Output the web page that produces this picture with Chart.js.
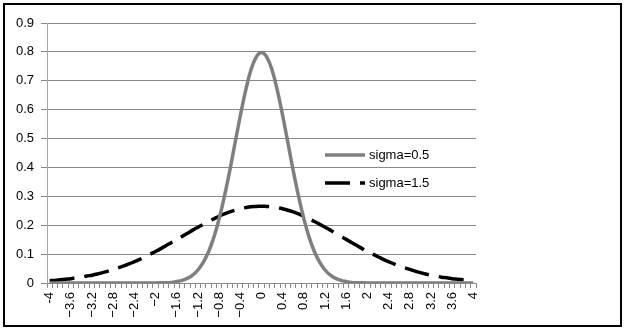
<!DOCTYPE html>
<html>
<head>
<meta charset="utf-8">
<script src="https://cdn.jsdelivr.net/npm/chart.js@4"></script>
<style>
  html, body { margin: 0; padding: 0; background: #fff; }
  #wrap { width: 625px; height: 333px; }
</style>
</head>
<body>
<div id="wrap"><canvas id="chart" width="625" height="333"></canvas></div>
<script>
// x categories, -4 .. 4 by 0.1
const xValues = [
  -4.0, -3.9, -3.8, -3.7, -3.6, -3.5, -3.4, -3.3, -3.2, -3.1,
  -3.0, -2.9, -2.8, -2.7, -2.6, -2.5, -2.4, -2.3, -2.2, -2.1,
  -2.0, -1.9, -1.8, -1.7, -1.6, -1.5, -1.4, -1.3, -1.2, -1.1,
  -1.0, -0.9, -0.8, -0.7, -0.6, -0.5, -0.4, -0.3, -0.2, -0.1,
  0.0,
  0.1, 0.2, 0.3, 0.4, 0.5, 0.6, 0.7, 0.8, 0.9, 1.0,
  1.1, 1.2, 1.3, 1.4, 1.5, 1.6, 1.7, 1.8, 1.9, 2.0,
  2.1, 2.2, 2.3, 2.4, 2.5, 2.6, 2.7, 2.8, 2.9, 3.0,
  3.1, 3.2, 3.3, 3.4, 3.5, 3.6, 3.7, 3.8, 3.9, 4.0
]

// tick labels shown every 0.4
const tickLabels = [
  '-4', '−3.6', '−3.2', '−2.8', '−2.4', '−2', '−1.6', '−1.2', '−0.8', '−0.4',
  '0', '0.4', '0.8', '1.2', '1.6', '2', '2.4', '2.8', '3.2', '3.6', '4'
]

const seriesNames = ['sigma=0.5', 'sigma=1.5']

const sigmaHalf = [
  0, 0, 0, 0, 0, 0, 0, 0, 0, 0,
  0, 0, 0, 0, 0, 0, 0, 0, 0, 0,
  0, 0.001, 0.001, 0.002, 0.005, 0.009, 0.016, 0.027, 0.045, 0.071,
  0.108, 0.158, 0.222, 0.300, 0.388, 0.484, 0.579, 0.666, 0.737, 0.782,
  0.798,
  0.782, 0.737, 0.666, 0.579, 0.484, 0.388, 0.300, 0.222, 0.158, 0.108,
  0.071, 0.045, 0.027, 0.016, 0.009, 0.005, 0.002, 0.001, 0.001, 0,
  0, 0, 0, 0, 0, 0, 0, 0, 0, 0,
  0, 0, 0, 0, 0, 0, 0, 0, 0, 0
]

const sigmaOneHalf = [
  0.008, 0.009, 0.011, 0.013, 0.015, 0.018, 0.020, 0.024, 0.027, 0.031,
  0.036, 0.041, 0.047, 0.053, 0.059, 0.066, 0.074, 0.082, 0.091, 0.100,
  0.109, 0.119, 0.130, 0.140, 0.151, 0.161, 0.172, 0.183, 0.193, 0.203,
  0.213, 0.222, 0.231, 0.239, 0.246, 0.252, 0.257, 0.261, 0.264, 0.265,
  0.266,
  0.265, 0.264, 0.261, 0.257, 0.252, 0.246, 0.239, 0.231, 0.222, 0.213,
  0.203, 0.193, 0.183, 0.172, 0.161, 0.151, 0.140, 0.130, 0.119, 0.109,
  0.100, 0.091, 0.082, 0.074, 0.066, 0.059, 0.053, 0.047, 0.041, 0.036,
  0.031, 0.027, 0.024, 0.020, 0.018, 0.015, 0.013, 0.011, 0.009, 0.008
]

const FONT = '"Liberation Sans", Arial, sans-serif'

// outer frame
const framePlugin = {
  id: 'frame',
  beforeDraw(chart) {
    const ctx = chart.ctx
    ctx.save()
    ctx.fillStyle = '#fff'
    ctx.fillRect(0, 0, chart.width, chart.height)
    ctx.strokeStyle = '#000'
    ctx.lineWidth = 2
    ctx.strokeRect(4, 4, 617, 322)
    ctx.restore()
  }
}

// legend inside the plot, like the original
const insideLegend = {
  id: 'insideLegend',
  afterDraw(chart) {
    const ctx = chart.ctx
    const rows = [155, 183]
    ctx.save()
    chart.data.datasets.forEach((ds, i) => {
      const y = rows[i]
      ctx.beginPath()
      ctx.strokeStyle = ds.borderColor
      ctx.lineWidth = ds.borderWidth
      ctx.lineCap = 'butt'
      ctx.setLineDash(ds.borderDash || [])
      ctx.moveTo(325, y)
      ctx.lineTo(365, y)
      ctx.stroke()
      ctx.setLineDash([])
      ctx.fillStyle = '#000'
      ctx.font = '13px ' + FONT
      ctx.textBaseline = 'middle'
      ctx.fillText(ds.label, 369, y)
    })
    ctx.restore()
  }
}

new Chart(document.getElementById('chart'), {
  type: 'line',
  data: {
    labels: xValues,
    datasets: [
      {
        label: seriesNames[0],
        data: sigmaHalf,
        borderColor: '#7f7f7f',
        borderWidth: 3.5,
        pointRadius: 0,
        tension: 0.4,
        fill: false
      },
      {
        label: seriesNames[1],
        data: sigmaOneHalf,
        borderColor: '#000000',
        borderWidth: 3.5,
        borderDash: [25, 10],
        borderCapStyle: 'butt',
        pointRadius: 0,
        tension: 0.4,
        fill: false
      }
    ]
  },
  options: {
    responsive: false,
    animation: false,
    layout: { padding: { left: 0, top: 23, right: 149, bottom: 0 } },
    plugins: {
      legend: { display: false },
      tooltip: { enabled: false }
    },
    scales: {
      x: {
        type: 'category',
        offset: true,
        grid: {
          display: true,
          drawOnChartArea: false,
          drawTicks: true,
          tickLength: 5,
          offset: true,
          color: '#888888'
        },
        border: { display: true, color: '#888888', width: 1 },
        ticks: {
          autoSkip: false,
          maxRotation: 90,
          minRotation: 90,
          padding: 4,
          color: '#000',
          font: { family: FONT, size: 13 },
          callback: (v, i) => (i % 4 === 0 ? tickLabels[i / 4] : '')
        },
        afterFit(scale) { scale.height = 50 }
      },
      y: {
        min: 0,
        max: 0.9,
        grid: {
          color: '#888888',
          tickLength: 6,
          drawTicks: true
        },
        border: { display: true, color: '#a6a6a6', width: 1 },
        ticks: {
          stepSize: 0.1,
          padding: 7,
          color: '#000',
          font: { family: FONT, size: 13 },
          callback: v => (Math.round(v * 10) / 10).toString()
        },
        afterFit(scale) { scale.width = 47 }
      }
    }
  },
  plugins: [framePlugin, insideLegend]
})
</script>
</body>
</html>
